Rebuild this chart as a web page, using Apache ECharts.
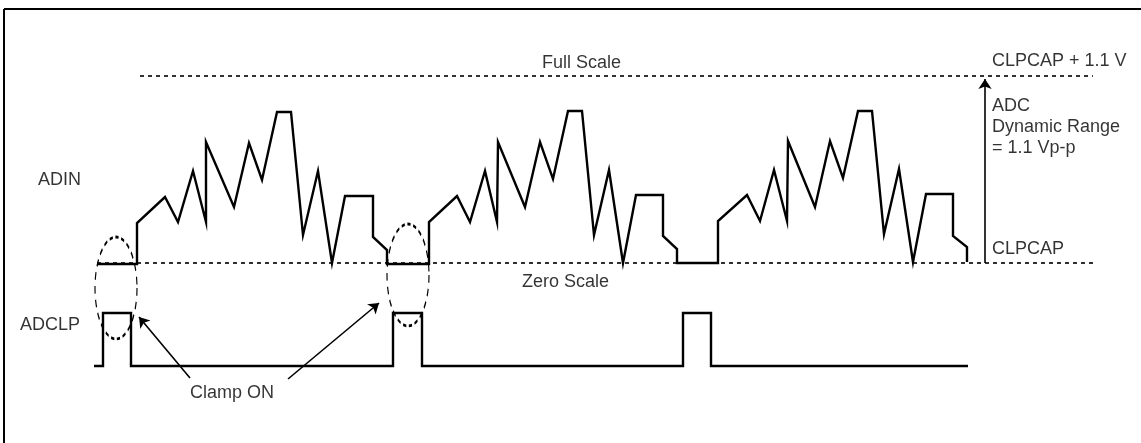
<!DOCTYPE html>
<html>
<head>
<meta charset="utf-8">
<script src="https://cdn.jsdelivr.net/npm/echarts@6/dist/echarts.min.js"></script>
<style>
  html, body { margin: 0; padding: 0; background: #fff; }
  #chart { width: 1141px; height: 443px; }
</style>
</head>
<body>
<div id="chart"></div>
<script>
// Diagram units: x = time position, y = level (screen-down)
const adinT = [97,137,137,165,178,193,206,206,234,249,262,277,291,303,318,332,345,373,373,387,387,
               429,429,457,470,485,497,498,525,540,553,568,582,594,609,623,636,663,663,677,677,
               718,718,747,760,774,787,788,815,830,843,858,872,884,899,913,926,953,953,967,967];
const adinV = [264,264,223,197,222,171,222,142,207,143,180,112,112,235,171,263,196,196,237,250,264,
               264,222,196,222,171,222,142,207,142,179,111,111,235,170,263,195,195,236,249,263,
               263,221,195,221,170,221,141,207,141,178,111,111,234,169,262,194,194,236,247,262];
const adclpT = [94,103,103,131,131,393,393,422,422,683,683,711,711,968];
const adclpV = [366,366,313,313,366,366,313,313,366,366,313,313,366,366];
const fullScaleT = [140,1093];
const fullScaleV = [76,76];
const zeroScaleT = [97,1095];
const zeroScaleV = [263,263];
const clampCenters = [[116,288],[408,275]];
const arrows = [
  [[190,378],[139,317]],
  [[288,379],[379,303]],
  [[985,263],[985,79]]
];
const labelText = ['Full Scale','CLPCAP + 1.1 V','ADC','Dynamic Range','= 1.1 Vp-p','CLPCAP','ADIN','Zero Scale','ADCLP','Clamp ON'];
const labelX = [542,992,992,992,992,992,38,522,20,190];
const labelY = [63,61,106,127,148,249,180,282,325,393];

const zip = (a,b) => a.map((v,i) => [v,b[i]]);
const FONT = '"Liberation Sans", Arial, sans-serif';

const chart = echarts.init(document.getElementById('chart'), null, {renderer: 'canvas'});
chart.setOption({
  animation: false,
  backgroundColor: '#fff',
  grid: {left: 0, right: 0, top: 0, bottom: 0},
  xAxis: {type: 'value', min: 0, max: 1141, show: false},
  yAxis: {type: 'value', min: 0, max: 443, inverse: true, show: false},
  graphic: [
    {type: 'line', shape: {x1: 4, y1: 9, x2: 1141, y2: 9}, style: {stroke: '#000', lineWidth: 2}},
    {type: 'line', shape: {x1: 4, y1: 9, x2: 4, y2: 443}, style: {stroke: '#000', lineWidth: 2}}
  ],
  series: [
    {type: 'line', name: 'Full Scale', data: zip(fullScaleT, fullScaleV), showSymbol: false,
     lineStyle: {color: '#000', width: 1.6, type: [4,4]}, silent: true},
    {type: 'line', name: 'Zero Scale', data: zip(zeroScaleT, zeroScaleV), showSymbol: false,
     lineStyle: {color: '#000', width: 1.6, type: [4,4]}, silent: true},
    {type: 'line', name: 'ADIN', data: zip(adinT, adinV), showSymbol: false, z: 5,
     lineStyle: {color: '#000', width: 2.4, join: 'miter'}},
    {type: 'line', name: 'ADCLP', data: zip(adclpT, adclpV), showSymbol: false, z: 5,
     lineStyle: {color: '#000', width: 2.4, join: 'miter'}},
    {type: 'scatter', name: 'Clamp', data: clampCenters, symbol: 'circle', symbolSize: [42,102],
     itemStyle: {color: 'rgba(0,0,0,0)', borderColor: '#000', borderWidth: 1.8, borderType: [5,4], opacity: 1}, z: 4},
    {type: 'lines', coordinateSystem: 'cartesian2d', data: arrows.map(c => ({coords: c})),
     symbol: ['none','arrow'], symbolSize: [0, 10],
     lineStyle: {color: '#000', width: 1.6, opacity: 1}, z: 6},
    {type: 'scatter', name: 'labels', symbolSize: 0,
     data: labelText.map((t,i) => ({value: [labelX[i], labelY[i]], name: t})),
     label: {show: true, position: 'right', distance: 0, formatter: p => p.name,
             color: '#000', fontSize: 18, fontFamily: FONT}, z: 10}
  ]
});
</script>
</body>
</html>
